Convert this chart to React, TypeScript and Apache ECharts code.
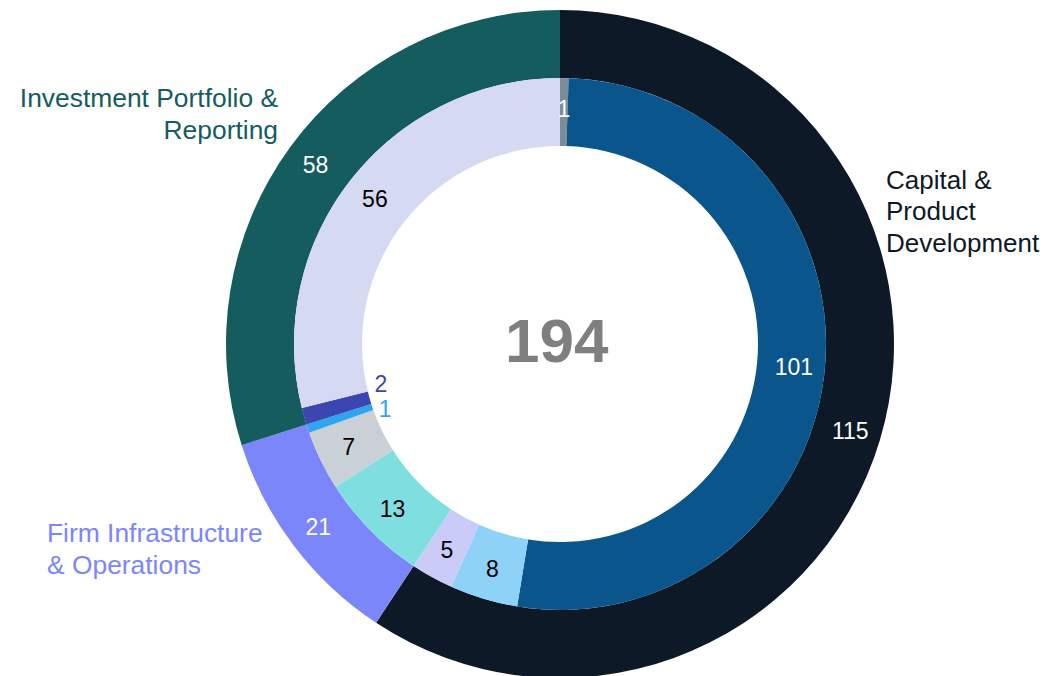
import React, { useEffect, useRef } from "react";
import * as echarts from "echarts";

const outerNames = ["Capital & Product Development", "Firm Infrastructure & Operations", "Investment Portfolio & Reporting"];
const outerValues = [115, 21, 58];
const outerColors = ["#0d1926", "#7b86fb", "#155c5e"];

const innerNames = ["A", "B", "C", "D", "E", "F", "G", "H", "I"];
const innerValues = [1, 101, 8, 5, 13, 7, 1, 2, 56];
const innerColors = ["#7a8e9a", "#0a558c", "#8ed3f7", "#cbcbfa", "#7fdfe0", "#c9d1d6", "#2fa5f0", "#3c46b0", "#d5d9f2"];
const innerLabelColors = ["#ffffff", "#ffffff", "#000000", "#000000", "#000000", "#000000", "#2fa5f0", "#3c46b0", "#000000"];

const totalLabel = "194";

const FONT = "Liberation Sans, Arial, sans-serif";

export default function App() {
  const ref = useRef<HTMLDivElement>(null);
  useEffect(() => {
    if (!ref.current) return;
    const chart = echarts.init(ref.current, null, { renderer: "svg" });
    const option: any = {
      animation: false,
      backgroundColor: "#ffffff",
      series: [
        {
          type: "pie",
          center: [560, 344],
          radius: [266, 334],
          startAngle: 90,
          clockwise: true,
          silent: true,
          label: {
            show: true,
            position: "inside",
            color: "#ffffff",
            fontSize: 23,
            fontFamily: FONT,
            formatter: "{c}",
          },
          labelLine: { show: false },
          itemStyle: { borderWidth: 0 },
          data: outerValues.map((v, i) => ({
            name: outerNames[i],
            value: v,
            itemStyle: { color: outerColors[i] },
          })),
        },
        {
          type: "pie",
          center: [560, 344],
          radius: [198, 266],
          startAngle: 90,
          clockwise: true,
          silent: true,
          label: {
            show: true,
            position: "inside",
            fontSize: 23,
            fontFamily: FONT,
            formatter: "{c}",
          },
          labelLine: { show: false },
          itemStyle: { borderWidth: 0 },
          labelLayout: (params: any) => {
            if (params.dataIndex === 6) return { dx: 48, dy: -10 };
            if (params.dataIndex === 7) return { dx: 47, dy: -24 };
            return {};
          },
          data: innerValues.map((v, i) => ({
            name: innerNames[i],
            value: v,
            itemStyle: { color: innerColors[i] },
            label: { color: innerLabelColors[i] },
          })),
        },
      ],
      graphic: [
        {
          type: "text",
          left: 505,
          top: 309,
          style: {
            text: totalLabel,
            font: `bold 62px ${FONT}`,
            fill: "#7f7f7f",
          },
        },
        {
          type: "text",
          x: 886,
          y: 164,
          style: {
            text: "Capital &\nProduct\nDevelopment",
            font: `26px ${FONT}`,
            lineHeight: 31.5,
            fill: "#0d1926",
            align: "left",
            verticalAlign: "top",
          },
        },
        {
          type: "text",
          x: 278,
          y: 82,
          style: {
            text: "Investment Portfolio &\nReporting",
            font: `26.4px ${FONT}`,
            lineHeight: 32,
            fill: "#155c5e",
            align: "right",
            verticalAlign: "top",
          },
        },
        {
          type: "text",
          x: 47,
          y: 517,
          style: {
            text: "Firm Infrastructure\n& Operations",
            font: `26.4px ${FONT}`,
            lineHeight: 32,
            fill: "#7b86fb",
            align: "left",
            verticalAlign: "top",
          },
        },
      ],
    };
    chart.setOption(option);
    return () => chart.dispose();
  }, []);
  return (
    <div
      ref={ref}
      style={{ position: "fixed", left: 0, top: 0, width: 1046, height: 676 }}
    />
  );
}
